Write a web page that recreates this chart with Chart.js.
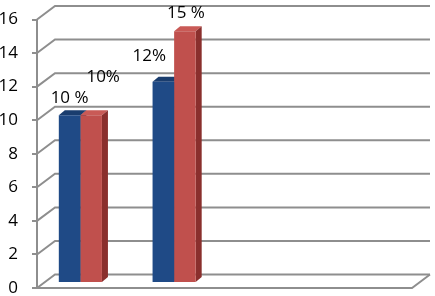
<!DOCTYPE html>
<html lang="en">
  <head>
    <meta charset="UTF-8" />
    <title>3D column chart</title>
    <script src="https://cdn.jsdelivr.net/npm/chart.js"></script>
    <style>
      body { margin: 0; background: #fff; }
      #wrap { position: relative; width: 435px; height: 296px; }
    </style>
  </head>
  <body>
    <div id="wrap"><canvas id="barChart"></canvas></div>

    <script>
      // chart data
      const categories = ["", "", "", ""];
      const series1Values = [10, 12, null, null];
      const series2Values = [10, 15, null, null];
      const series1Labels = ["10 %", "12%", "", ""];
      const series2Labels = ["10%", "15 %", "", ""];
      const yMin = 0;
      const yMax = 16;
      const yStep = 2;

      // where each value label sits relative to the top of its bar
      const labelOffsets = [
        [[0, -17], [-14, -25]],
        [[12, -38], [1, -18]],
      ];

      const GRID = "#8e8e8e";
      const DEPTH_X = 18; // wall depth
      const DEPTH_Y = 13.5;
      const BAR_SHIFT_X = -3.5; // bars sit partway into the depth
      const BAR_SHIFT_Y = -5;
      const BAR_DX = 6; // bar's own depth
      const BAR_DY = 5;
      const FONT = "'Open Sans', 'Noto Sans', sans-serif";

      const colors = [
        { front: "#1f4a86", top: "#1a3d6e", side: "#17355f" },
        { front: "#c0504d", top: "#c95a56", side: "#8a2f2d" },
      ];

      // draws the walls, floor and the 3D faces of the bars
      const threeD = {
        id: "threeD",
        beforeDatasetsDraw(chart) {
          const { ctx, chartArea } = chart;
          const y = chart.scales.y;
          const left = chartArea.left;
          const right = chartArea.right;

          ctx.save();
          ctx.strokeStyle = GRID;
          ctx.lineWidth = 2;
          for (let v = yMin; v <= yMax; v += yStep) {
            const py = y.getPixelForValue(v);
            ctx.beginPath();
            ctx.moveTo(left, py);
            ctx.lineTo(left + DEPTH_X, py - DEPTH_Y);
            ctx.lineTo(right + DEPTH_X, py - DEPTH_Y);
            ctx.stroke();
          }
          // floor front edge
          const p0 = y.getPixelForValue(0);
          ctx.beginPath();
          ctx.moveTo(left, p0);
          ctx.lineTo(right, p0);
          ctx.lineTo(right + DEPTH_X, p0 - DEPTH_Y);
          ctx.stroke();
          ctx.restore();

          // bars are shifted back into the floor; restored after datasets
          ctx.save();
          ctx.translate(BAR_SHIFT_X, BAR_SHIFT_Y);
          chart.data.datasets.forEach((ds, di) => {
            const meta = chart.getDatasetMeta(di);
            meta.data.forEach((bar, i) => {
              if (ds.data[i] == null) return;
              const x1 = bar.x - bar.width / 2;
              const x2 = bar.x + bar.width / 2;
              const top = bar.y;
              const base = bar.base;
              ctx.fillStyle = colors[di].top;
              ctx.beginPath();
              ctx.moveTo(x1, top);
              ctx.lineTo(x2, top);
              ctx.lineTo(x2 + BAR_DX, top - BAR_DY);
              ctx.lineTo(x1 + BAR_DX, top - BAR_DY);
              ctx.closePath();
              ctx.fill();
              ctx.fillStyle = colors[di].side;
              ctx.beginPath();
              ctx.moveTo(x2, top);
              ctx.lineTo(x2 + BAR_DX, top - BAR_DY);
              ctx.lineTo(x2 + BAR_DX, base - BAR_DY);
              ctx.lineTo(x2, base);
              ctx.closePath();
              ctx.fill();
            });
          });
        },
        afterDatasetsDraw(chart) {
          const { ctx } = chart;
          // value labels, still inside the bar shift
          ctx.fillStyle = "#000";
          ctx.font = "17px " + FONT;
          ctx.textAlign = "center";
          ctx.textBaseline = "middle";
          const labelSets = [series1Labels, series2Labels];
          chart.data.datasets.forEach((ds, di) => {
            const meta = chart.getDatasetMeta(di);
            meta.data.forEach((bar, i) => {
              const text = labelSets[di][i];
              if (!text) return;
              const off = labelOffsets[di][i] || [0, -15];
              ctx.fillText(text, bar.x + off[0], bar.y + off[1]);
            });
          });
          ctx.restore();
        },
      };

      const ctx = document.getElementById("barChart").getContext("2d");
      new Chart(ctx, {
        type: "bar",
        data: {
          labels: categories,
          datasets: [
            {
              label: "Series 1",
              data: series1Values,
              backgroundColor: colors[0].front,
            },
            {
              label: "Series 2",
              data: series2Values,
              backgroundColor: colors[1].front,
            },
          ],
        },
        options: {
          responsive: true,
          maintainAspectRatio: false,
          animation: false,
          devicePixelRatio: 1,
          categoryPercentage: 0.46,
          barPercentage: 1,
          layout: {
            padding: { top: 19.5, bottom: 8, left: 0, right: 23 },
          },
          scales: {
            x: { display: false },
            y: {
              min: yMin,
              max: yMax,
              ticks: {
                stepSize: yStep,
                padding: 14,
                color: "#000",
                font: { family: FONT, size: 17 },
              },
              grid: {
                drawOnChartArea: false,
                drawTicks: true,
                tickLength: 5,
                color: GRID,
                lineWidth: 2,
              },
              border: { color: GRID, width: 2 },
              afterFit(scale) {
                scale.width = 37; // front axis position
                scale.paddingTop = 0;
                scale.paddingBottom = 0;
              },
            },
          },
          plugins: {
            legend: { display: false },
            tooltip: { enabled: false },
          },
        },
        plugins: [threeD],
      });
    </script>
  </body>
</html>
